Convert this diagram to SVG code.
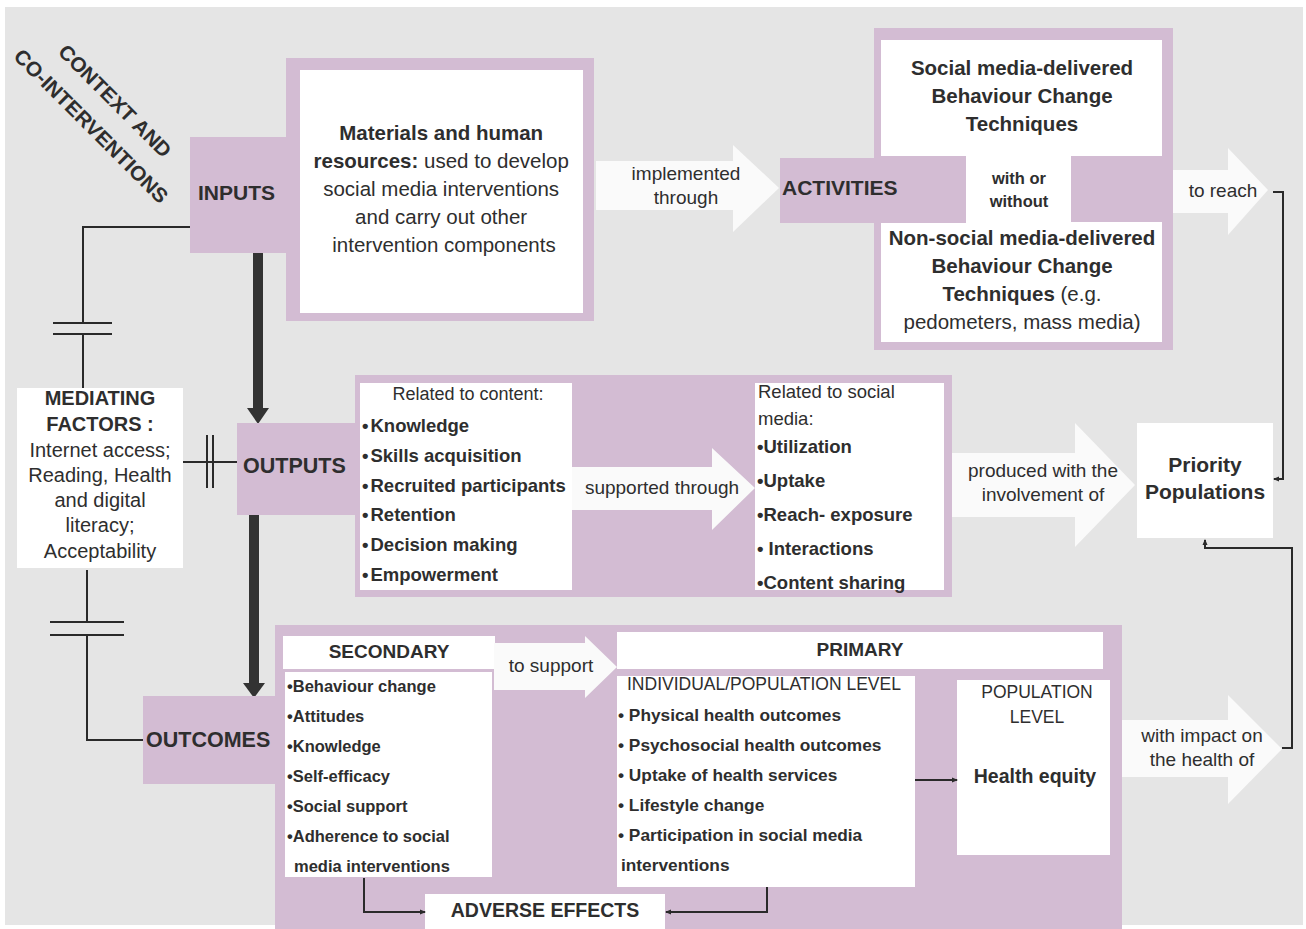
<svg xmlns="http://www.w3.org/2000/svg" width="1306" height="929" viewBox="0 0 1306 929">
<defs>
<style>
text{font-family:"Liberation Sans",Arial,sans-serif;fill:#2e2e2e}
.b{font-weight:bold}
.pu{fill:#d3bcd3}
.wh{fill:#ffffff}
.ar{fill:#fafafa}
.ln{fill:none;stroke:#2a2a2a;stroke-width:2}
.th{fill:none;stroke:#333;stroke-width:10}
.c{text-anchor:middle}
</style>
<marker id="sm" viewBox="0 0 6 6" refX="5" refY="3" markerWidth="6" markerHeight="6" markerUnits="userSpaceOnUse" orient="auto"><path d="M0,0.5 L6,3 L0,5.5z" fill="#2a2a2a"/></marker>
</defs>
<rect x="0" y="0" width="1306" height="929" fill="#ffffff"/>
<rect x="5" y="7" width="1298" height="918" fill="#e5e5e5"/>

<g id="context">
<text class="b" font-size="20.5" transform="translate(110,106) rotate(45)" text-anchor="middle" textLength="150" lengthAdjust="spacingAndGlyphs">CONTEXT AND</text>
<text class="b" font-size="20.5" transform="translate(86,131) rotate(45)" text-anchor="middle" textLength="208" lengthAdjust="spacingAndGlyphs">CO-INTERVENTIONS</text>
</g>

<g id="connectors">
<polyline class="ln" points="190,227 83,227 83,323"/>
<line class="ln" x1="83" y1="334" x2="83" y2="388"/>
<line class="ln" x1="53" y1="323" x2="112" y2="323"/>
<line class="ln" x1="53" y1="334" x2="112" y2="334"/>
<line class="ln" x1="87" y1="570" x2="87" y2="622"/>
<line class="ln" x1="50" y1="622" x2="124" y2="622"/>
<line class="ln" x1="50" y1="635" x2="124" y2="635"/>
<polyline class="ln" points="87,635 87,740 143,740"/>
<line class="ln" x1="183" y1="462" x2="237" y2="462"/>
<line class="ln" x1="207" y1="435" x2="207" y2="488"/>
<line class="ln" x1="213" y1="435" x2="213" y2="488"/>
<line class="th" x1="258" y1="253" x2="258" y2="412"/>
<path d="M247,408 L269,408 L258,424z" fill="#333"/>
<line class="th" x1="254" y1="515" x2="254" y2="686"/>
<path d="M243,683 L265,683 L254,698z" fill="#333"/>
<polyline class="ln" points="1273,192 1283,192 1283,479 1274,479" marker-end="url(#sm)"/>
<polyline class="ln" points="1282,748 1292,748 1292,548 1205,548 1205,540" marker-end="url(#sm)"/>
</g>

<g id="inputs">
<rect class="pu" x="190" y="137" width="105" height="116"/>
<text class="b" font-size="21" x="198" y="200">INPUTS</text>
</g>

<g id="materials">
<rect class="pu" x="286" y="58" width="308" height="263"/>
<rect class="wh" x="300" y="70" width="283" height="243"/>
<text font-size="20.5" class="c">
<tspan x="444" y="140" class="b">Materials and human</tspan>
<tspan x="444" y="168"><tspan class="b">resources:</tspan> used to develop</tspan>
<tspan x="444" y="196">social media interventions</tspan>
<tspan x="444" y="224">and carry out other</tspan>
<tspan x="444" y="252">intervention components</tspan>
</text>
</g>

<g id="arrow-implemented">
<path class="ar" d="M596,161 L733,161 L733,145 L779,188 L733,232 L733,210 L596,210z"/>
<text font-size="19" class="c"><tspan x="686" y="180">implemented</tspan><tspan x="686" y="204">through</tspan></text>
</g>

<g id="activities">
<rect class="pu" x="874" y="28" width="299" height="322"/>
<rect class="wh" x="881" y="40" width="281" height="116"/>
<rect class="wh" x="881" y="222" width="281" height="120"/>
<rect class="pu" x="780" y="158" width="186" height="65"/>
<rect class="wh" x="966" y="155" width="105" height="68"/>
<text class="b" font-size="21" x="782" y="195">ACTIVITIES</text>
<text class="b c" font-size="20.5"><tspan x="1022" y="75">Social media-delivered</tspan><tspan x="1022" y="103">Behaviour Change</tspan><tspan x="1022" y="131">Techniques</tspan></text>
<text class="b c" font-size="16.5"><tspan x="1019" y="184">with or</tspan><tspan x="1019" y="207">without</tspan></text>
<text class="c" font-size="20.5"><tspan x="1022" y="245" class="b">Non-social media-delivered</tspan><tspan x="1022" y="273" class="b">Behaviour Change</tspan><tspan x="1022" y="301"><tspan class="b">Techniques</tspan> (e.g.</tspan><tspan x="1022" y="329">pedometers, mass media)</tspan></text>
</g>

<g id="arrow-reach">
<path class="ar" d="M1173,170 L1228,170 L1228,148 L1268,190 L1228,235 L1228,213 L1173,213z"/>
<text font-size="19" class="c" x="1223" y="197">to reach</text>
</g>

<g id="mediating">
<rect class="wh" x="17" y="388" width="166" height="180"/>
<text class="c" font-size="20"><tspan x="100" y="405" class="b">MEDIATING</tspan><tspan x="100" y="431" class="b">FACTORS :</tspan><tspan x="100" y="457">Internet access;</tspan><tspan x="100" y="482">Reading, Health</tspan><tspan x="100" y="507">and digital</tspan><tspan x="100" y="532">literacy;</tspan><tspan x="100" y="558">Acceptability</tspan></text>
</g>

<g id="outputs">
<rect class="pu" x="237" y="423" width="125" height="92"/>
<rect class="pu" x="355" y="375" width="597" height="222"/>
<rect class="wh" x="360" y="383" width="212" height="207"/>
<rect class="wh" x="755" y="383" width="189" height="207"/>
<text class="b" font-size="21.5" x="243" y="473">OUTPUTS</text>
<text font-size="18" x="468" y="400" class="c">Related to content:</text>
<text class="b" font-size="18.5"><tspan x="362" y="432">•</tspan><tspan dx="2">Knowledge</tspan><tspan x="362" y="462">•</tspan><tspan dx="2">Skills acquisition</tspan><tspan x="362" y="492">•</tspan><tspan dx="2">Recruited participants</tspan><tspan x="362" y="521">•</tspan><tspan dx="2">Retention</tspan><tspan x="362" y="551">•</tspan><tspan dx="2">Decision making</tspan><tspan x="362" y="581">•</tspan><tspan dx="2">Empowerment</tspan></text>
<text font-size="18.5"><tspan x="758" y="398">Related to social</tspan><tspan x="758" y="425">media:</tspan></text>
<text class="b" font-size="18.5"><tspan x="757" y="453">•Utilization</tspan><tspan x="757" y="487">•Uptake</tspan><tspan x="757" y="521">•Reach- exposure</tspan><tspan x="757" y="555">• Interactions</tspan><tspan x="757" y="589">•Content sharing</tspan></text>
<path class="ar" d="M572,467 L712,467 L712,448 L755,488 L712,530 L712,510 L572,510z"/>
<text font-size="19" class="c" x="662" y="494">supported through</text>
</g>

<g id="arrow-produced">
<path class="ar" d="M952,453 L1075,453 L1075,423 L1135,485 L1075,547 L1075,517 L952,517z"/>
<text font-size="19" class="c"><tspan x="1043" y="477">produced with the</tspan><tspan x="1043" y="501">involvement of</tspan></text>
</g>

<g id="priority">
<rect class="wh" x="1137" y="423" width="136" height="115"/>
<text class="b c" font-size="21"><tspan x="1205" y="472">Priority</tspan><tspan x="1205" y="499">Populations</tspan></text>
</g>

<g id="outcomes">
<rect class="pu" x="143" y="696" width="142" height="88"/>
<rect class="pu" x="275" y="625" width="847" height="304"/>
<text class="b" font-size="21.5" x="146" y="747">OUTCOMES</text>
<rect class="wh" x="283" y="636" width="212" height="33"/>
<rect class="wh" x="285" y="672" width="207" height="205"/>
<path class="ar" d="M494,643 L585,643 L585,636 L617,667 L585,698 L585,690 L494,690z"/>
<text class="b c" font-size="19" x="389" y="658">SECONDARY</text>
<text font-size="19" class="c" x="551" y="672">to support</text>
<text class="b" font-size="16.5"><tspan x="287" y="692">•Behaviour change</tspan><tspan x="287" y="722">•Attitudes</tspan><tspan x="287" y="752">•Knowledge</tspan><tspan x="287" y="782">•Self-efficacy</tspan><tspan x="287" y="812">•Social support</tspan><tspan x="287" y="842">•Adherence to social</tspan><tspan x="294" y="872">media interventions</tspan></text>
<rect class="wh" x="617" y="632" width="486" height="37"/>
<text class="b c" font-size="19" x="860" y="656">PRIMARY</text>
<rect class="wh" x="617" y="676" width="298" height="211"/>
<text font-size="17.5" x="627" y="690">INDIVIDUAL/POPULATION LEVEL</text>
<text class="b" font-size="17.3"><tspan x="618" y="721">• Physical health outcomes</tspan><tspan x="618" y="751">• Psychosocial health outcomes</tspan><tspan x="618" y="781">• Uptake of health services</tspan><tspan x="618" y="811">• Lifestyle change</tspan><tspan x="618" y="841">• Participation in social media</tspan><tspan x="621" y="871">interventions</tspan></text>
<rect class="wh" x="957" y="680" width="153" height="175"/>
<text class="c" font-size="17.5"><tspan x="1037" y="698">POPULATION</tspan><tspan x="1037" y="723">LEVEL</tspan></text>
<text class="b c" font-size="19.5" x="1035" y="783">Health equity</text>
<line class="ln" x1="915" y1="780" x2="957" y2="780" marker-end="url(#sm)"/>
<rect class="wh" x="425" y="894" width="240" height="35"/>
<text class="b c" font-size="19.5" x="545" y="917">ADVERSE EFFECTS</text>
<polyline class="ln" points="364,878 364,912 425,912" marker-end="url(#sm)"/>
<polyline class="ln" points="767,887 767,912 666,912" marker-end="url(#sm)"/>
</g>

<g id="arrow-impact">
<path class="ar" d="M1122,720 L1228,720 L1228,695 L1282,749 L1228,804 L1228,777 L1122,777z"/>
<text font-size="19" class="c"><tspan x="1202" y="742">with impact on</tspan><tspan x="1202" y="766">the health  of</tspan></text>
</g>
</svg>
